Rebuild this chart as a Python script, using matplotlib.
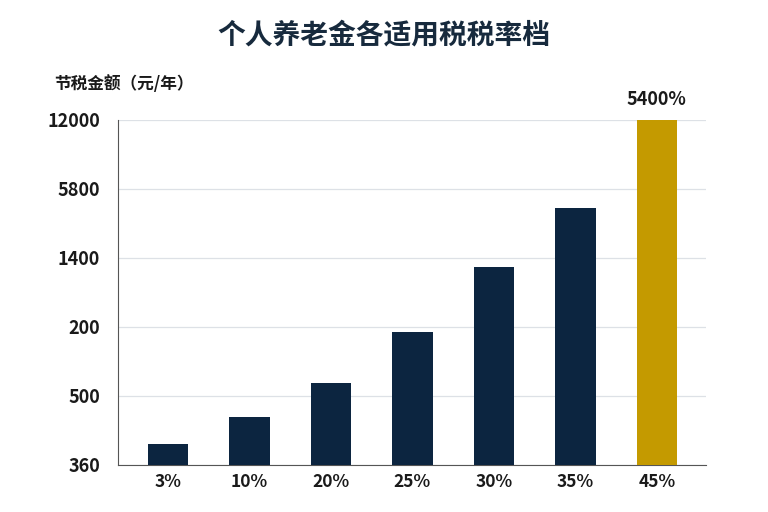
import matplotlib
matplotlib.use("Agg")
import matplotlib.pyplot as plt

plt.rcParams['font.family'] = ['Noto Sans CJK SC', 'DejaVu Sans']

# 数据（按图中刻度单位读取）
rates = ['3%', '10%', '20%', '25%', '30%', '35%', '45%']
heights = [0.30, 0.70, 1.19, 1.93, 2.87, 3.72, 5.0]
ytick_labels = ['360', '500', '200', '1400', '5800', '12000']
top_label = '5400%'

navy = '#0c2540'
gold = '#c49a00'
colors = [navy] * (len(rates) - 1) + [gold]

fig = plt.figure(figsize=(7.68, 5.12), dpi=100)
ax = fig.add_axes([0.154, 0.092, 0.765, 0.674])

x = list(range(len(rates)))
ax.bar(x, heights, width=0.5, color=colors, zorder=3)

ax.set_xlim(-0.61, 6.6)
ax.set_ylim(0, 5)
ax.set_xticks(x)
ax.set_xticklabels(rates, fontsize=12.5, fontweight='bold', color='#1a1a1a')
ax.set_yticks(range(len(ytick_labels)))
ax.set_yticklabels(ytick_labels, fontsize=13, fontweight='bold', color='#1a1a1a')
ax.tick_params(axis='both', length=0)
ax.tick_params(axis='y', pad=13)
ax.tick_params(axis='x', pad=6)

ax.grid(axis='y', color='#dde1e6', linewidth=0.9, zorder=0)
for s in ['top', 'right']:
    ax.spines[s].set_visible(False)
ax.spines['left'].set_color('#555555')
ax.spines['bottom'].set_color('#555555')

# 最高档标注
ax.annotate(top_label, (x[-1], heights[-1]), xytext=(0, 8), textcoords='offset points',
            ha='center', va='bottom', fontsize=13, fontweight='bold', color='#1a1a1a')

fig.text(0.5, 0.93, '个人养老金各适用税税率档', ha='center', va='center',
         fontsize=20, fontweight='bold', color='#172a3d')
fig.text(0.07, 0.835, '节税金额（元/年）', ha='left', va='center',
         fontsize=12, fontweight='bold', color='#1a1a1a')

fig.savefig('out.png', dpi=100, facecolor='white')
